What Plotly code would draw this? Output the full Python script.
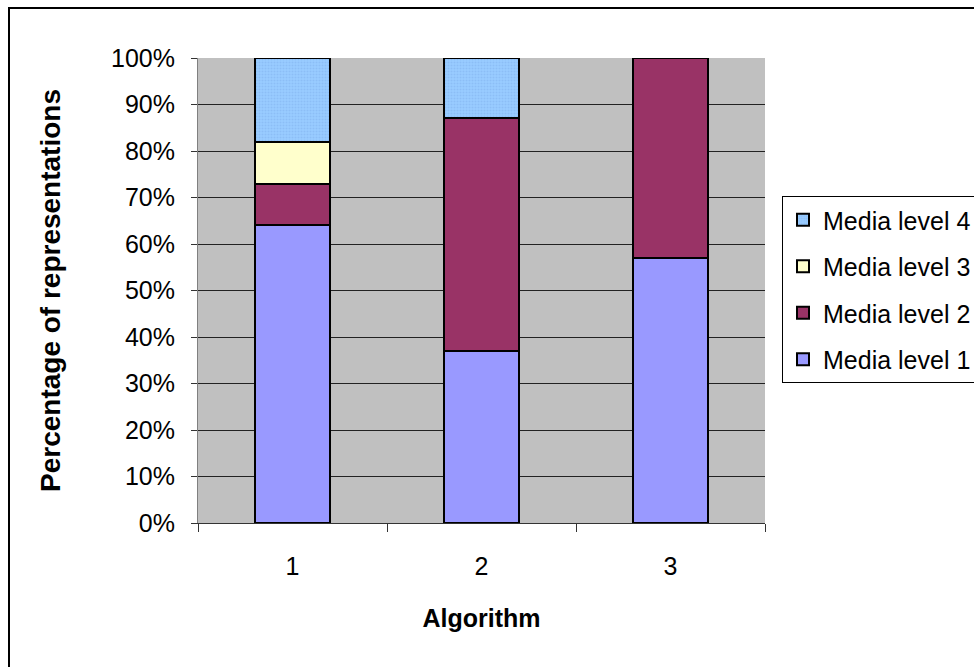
import plotly.graph_objects as go

categories = ["1", "2", "3"]
level1 = [64, 37, 57]
level2 = [9, 50, 43]
level3 = [9, 0, 0]
level4 = [18, 13, 0]
series_names = ["Media level 1", "Media level 2", "Media level 3", "Media level 4"]
colors = ["#9999FF", "#993366", "#FFFFCC", "#99CCFF"]
y_ticks = [0, 10, 20, 30, 40, 50, 60, 70, 80, 90, 100]
y_ticktext = [f"{v}%" for v in y_ticks]

fig = go.Figure()
for i, (name, vals, col) in enumerate(zip(series_names, [level1, level2, level3, level4], colors)):
    marker = dict(color=col, line=dict(color="black", width=2))
    if i == 3:
        marker["pattern"] = dict(shape=".", fgcolor="#7FB0EE", bgcolor=col, size=3, solidity=0.35)
    fig.add_trace(go.Bar(
        x=categories, y=vals, name=name, marker=marker,
        legendgroup=name, legendrank=10 - i, width=0.4,
    ))

fig.update_layout(
    barmode="stack",
    width=974, height=667,
    margin=dict(l=198, r=209, t=58, b=144, autoexpand=False),
    paper_bgcolor="white",
    plot_bgcolor="#C0C0C0",
    font=dict(family="Liberation Sans, Arial, sans-serif", size=25, color="black"),
    showlegend=True,
    legend=dict(
        x=(782 - 198) / 567, xanchor="left", y=(523 - 196) / 465, yanchor="top",
        traceorder="grouped", tracegroupgap=11,
        bordercolor="black", borderwidth=1, bgcolor="white",
        font=dict(size=25), itemwidth=30,
    ),
    xaxis=dict(
        type="category", tickson="boundaries", ticks="outside", ticklen=8,
        tickcolor="#333333", showline=True, linecolor="#333333", linewidth=1,
        showgrid=False, ticklabelstandoff=21,
        title=dict(text="<b>Algorithm</b>", font=dict(size=25), standoff=30),
    ),
    yaxis=dict(
        range=[0, 100], tickmode="array", tickvals=y_ticks, ticktext=y_ticktext,
        ticks="outside", ticklen=6, tickcolor="#333333", ticklabelstandoff=11,
        showline=True, linecolor="#808080", linewidth=1,
        showgrid=True, gridcolor="#222222", gridwidth=1,
        zeroline=False,
        title=dict(text="<b>Percentage of representations</b>", font=dict(size=28), standoff=42),
    ),
    shapes=[dict(type="rect", xref="paper", yref="paper",
                 x0=(9 - 198) / 567, x1=(1000 - 198) / 567,
                 y0=(523 - 700) / 465, y1=(523 - 8) / 465,
                 line=dict(color="black", width=2), fillcolor="rgba(0,0,0,0)", layer="below")],
)

fig.write_html(
    "out.html",
    config={"displayModeBar": False},
    post_script="document.body.style.margin='0';document.body.style.overflow='hidden';",
)
